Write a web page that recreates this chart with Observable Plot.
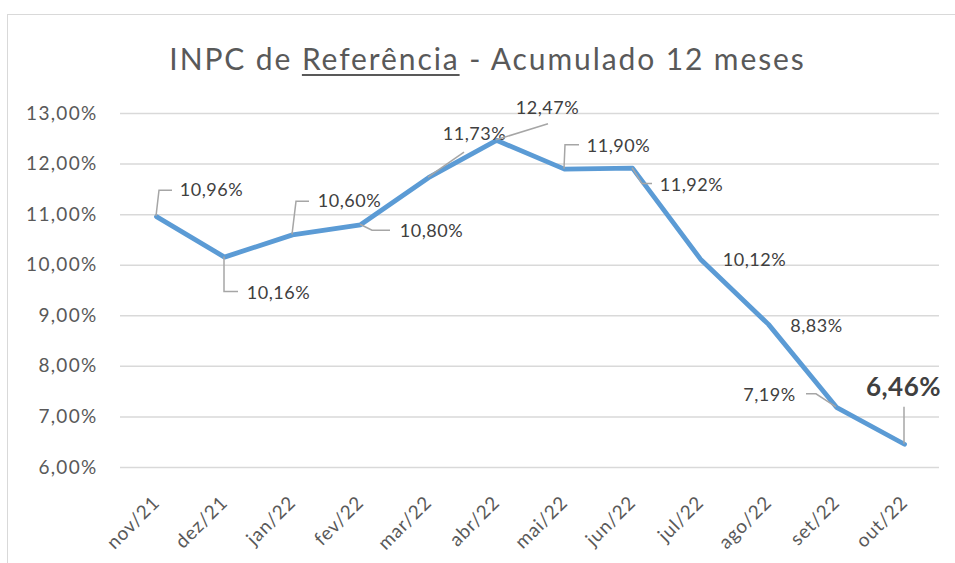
<!DOCTYPE html>
<html><head><meta charset="utf-8">
<script src="https://cdn.jsdelivr.net/npm/d3@7"></script>
<script src="https://cdn.jsdelivr.net/npm/@observablehq/plot@0.6"></script>
<style>
body{margin:0;background:#fff;}
#wrap{position:relative;width:955px;height:563px;overflow:hidden;font-family:Lato, "Open Sans", sans-serif;}
#frame{position:absolute;left:7px;top:14px;width:960px;height:560px;border:1.5px solid #d9d9d9;box-sizing:border-box;}
#title{position:absolute;top:38px;left:0;width:975px;text-align:center;font-size:30px;letter-spacing:1.9px;color:#595959;line-height:40px;}
#title u{text-decoration-thickness:2px;text-underline-offset:4px;}
#chart{position:absolute;left:0;top:80px;}
g[aria-label="y-axis tick label"] text{letter-spacing:1.3px;}
g[aria-label="x-axis tick label"] text{letter-spacing:0.8px;}
g[aria-label="text"] text{letter-spacing:0.5px;}
</style></head>
<body>
<div id="wrap">
  <div id="frame"></div>
  <div id="title">INPC de <u>Referência</u> - Acumulado 12 meses</div>
  <div id="chart"></div>
</div>
<script>
const months = ["nov/21","dez/21","jan/22","fev/22","mar/22","abr/22","mai/22","jun/22","jul/22","ago/22","set/22","out/22"];
const values = [10.96,10.16,10.60,10.80,11.73,12.47,11.90,11.92,10.12,8.83,7.19,6.46];
const yTicks = [6,7,8,9,10,11,12,13];
const yTickLabels = ["6,00%","7,00%","8,00%","9,00%","10,00%","11,00%","12,00%","13,00%"];

// layout of data labels (pixel offsets from the point) and leader-line elbows
const labelLayout = [
  {dx:55, dy:-26, lead:[[0,0],[3,-26],[16,-26]]},
  {dx:54, dy:36, lead:[[0,0],[0,35],[14,35]]},
  {dx:57, dy:-34, lead:[[0,0],[4,-33],[17,-33]]},
  {dx:71, dy:6, lead:[[0,0],[12,6],[30,6]]},
  {dx:46, dy:-43, lead:[[0,0],[36,-25]]},
  {dx:51, dy:-32, lead:[[0,0],[52,-16]]},
  {dx:54, dy:-23, lead:[[0,0],[1,-24],[15,-24]]},
  {dx:59, dy:17, lead:[[0,0],[10,16],[20,16]]},
  {dx:54, dy:1, lead:null},
  {dx:48, dy:2, lead:null},
  {dx:-67, dy:-12, lead:[[0,0],[-20,-13],[-30,-13]]},
  {dx:-1, dy:-57, lead:[[0,0],[0,-37]], bold:true}
];

const data = months.map((m,i)=>({month:m, value:values[i]}));
const fmt = v => v.toFixed(2).replace(".", ",") + "%";

const textMarks = data.map((d,i)=>{
  const L = labelLayout[i];
  return Plot.text([d], {x:"month", y:"value", text:dd=>fmt(dd.value), dx:L.dx, dy:L.dy,
    fill:"#404040", fontSize: L.bold ? 26 : 18, fontWeight: L.bold ? "bold" : "normal"});
});

const plot = Plot.plot({
  width:955, height:483,
  marginLeft:120, marginRight:16, marginTop:33, marginBottom:96,
  style:{fontFamily:"Lato, 'Open Sans', sans-serif", fontSize:"17px", color:"#595959", background:"transparent", overflow:"visible"},
  x:{type:"point", domain:months, padding:0.5, label:null},
  y:{domain:[6,13], label:null},
  marks:[
    Plot.ruleY(yTicks, {stroke:"#d9d9d9", strokeWidth:1.5}),
    Plot.axisY({ticks:yTicks, tickFormat:d=>yTickLabels[yTicks.indexOf(d)], tickSize:0, tickPadding:23, fontSize:19, label:null}),
    Plot.axisX({tickRotate:-45, tickSize:0, tickPadding:32, fontSize:19, label:null}),
    Plot.line(data, {x:"month", y:"value", stroke:"#5B9BD5", strokeWidth:4.8, strokeLinejoin:"round", strokeLinecap:"round"}),
    ...textMarks
  ]
});

const xs = plot.scale("x"), ys = plot.scale("y");
const g = d3.select(plot).append("g").attr("fill","none").attr("stroke","#A6A6A6").attr("stroke-width",1.5);
data.forEach((d,i)=>{
  const L = labelLayout[i];
  if (!L.lead) return;
  const px = xs.apply(d.month), py = ys.apply(d.value);
  g.append("path").attr("d", d3.line()(L.lead.map(([a,b])=>[px+a, py+b])));
});
document.getElementById("chart").appendChild(plot);
</script>
</body></html>
